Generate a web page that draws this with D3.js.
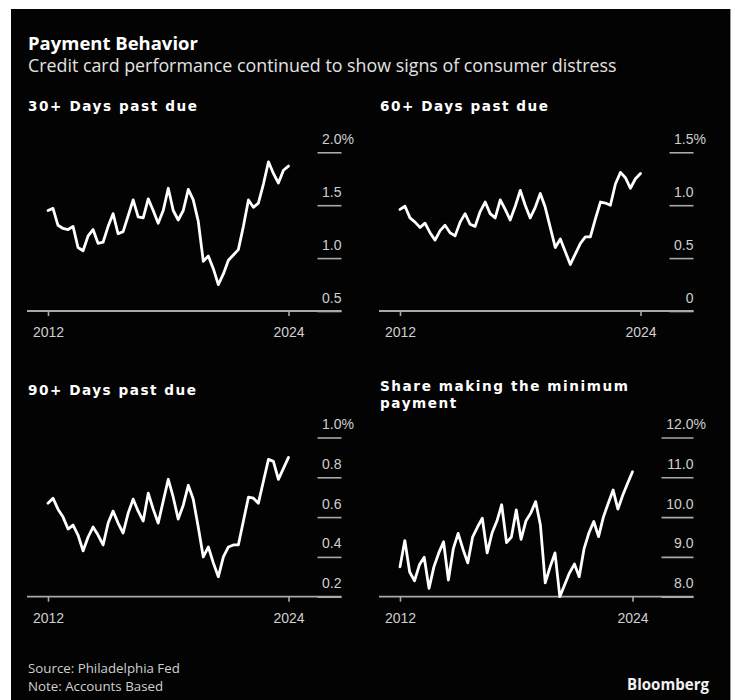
<!DOCTYPE html>
<html>
<head>
<meta charset="utf-8">
<script src="https://cdn.jsdelivr.net/npm/d3@7"></script>
<style>
  body { margin: 0; background: #fff; }
  svg { display: block; font-family: "Open Sans", "Noto Sans", sans-serif; }
</style>
</head>
<body>
<div id="chart"></div>
<script>
// quarterly readings, 2012Q1 .. 2024Q1
var pastDue30 = [1.45, 1.47, 1.31, 1.28, 1.27, 1.30, 1.10, 1.07, 1.21, 1.27, 1.14, 1.15, 1.30, 1.42, 1.23, 1.25,
    1.40, 1.55, 1.39, 1.38, 1.56, 1.45, 1.33, 1.45, 1.66, 1.45, 1.36, 1.45, 1.65, 1.55, 1.35, 0.97,
    1.02, 0.90, 0.75, 0.85, 0.98, 1.03, 1.08, 1.30, 1.55, 1.48, 1.52, 1.70, 1.91, 1.80, 1.71, 1.83, 1.87];
var pastDue60 = [0.96, 0.99, 0.88, 0.84, 0.79, 0.83, 0.74, 0.67, 0.76, 0.81, 0.74, 0.71, 0.84, 0.92, 0.82, 0.80,
    0.94, 1.03, 0.92, 0.88, 1.05, 0.96, 0.86, 0.99, 1.14, 1.00, 0.88, 0.98, 1.11, 0.98, 0.79, 0.60,
    0.68, 0.56, 0.44, 0.54, 0.64, 0.70, 0.70, 0.87, 1.03, 1.02, 1.00, 1.20, 1.31, 1.26, 1.16, 1.25, 1.30];
var pastDue90 = [0.67, 0.695, 0.64, 0.60, 0.54, 0.56, 0.51, 0.43, 0.50, 0.55, 0.51, 0.46, 0.57, 0.63, 0.57, 0.52,
    0.62, 0.69, 0.63, 0.58, 0.72, 0.64, 0.57, 0.68, 0.79, 0.70, 0.59, 0.66, 0.76, 0.69, 0.55, 0.40,
    0.45, 0.37, 0.30, 0.40, 0.45, 0.46, 0.46, 0.58, 0.70, 0.695, 0.67, 0.78, 0.89, 0.88, 0.79, 0.845, 0.90];
var minPayment = [8.75, 9.41, 8.62, 8.40, 8.80, 8.99, 8.21, 8.75, 9.10, 9.38, 8.42, 9.20, 9.59, 9.20, 8.85, 9.50,
    9.75, 9.97, 9.10, 9.60, 9.90, 10.31, 9.36, 9.50, 10.18, 9.44, 9.90, 10.10, 10.39, 9.80, 8.35, 8.75,
    9.10, 8.00, 8.30, 8.60, 8.82, 8.50, 9.20, 9.60, 9.89, 9.51, 10.00, 10.35, 10.68, 10.20, 10.55, 10.85, 11.14];

var ticks30 = [0.5, 1.0, 1.5, 2.0];
var ticks60 = [0, 0.5, 1.0, 1.5];
var ticks90 = [0.2, 0.4, 0.6, 0.8, 1.0];
var ticksMin = [8, 9, 10, 11, 12];
var yearTicks = ["2012", "2024"];

var quarters = d3.range(pastDue30.length).map(function (i) {
    return d3.timeMonth.offset(new Date(2012, 0, 1), 3 * i);
});

var width = 735;
var height = 700;
var axisColor = "#a9a9a9";
var labelColor = "#cfcfcf";

var svg = d3.select("#chart")
    .append("svg")
    .attr("width", width)
    .attr("height", height);

svg.append("rect")
    .attr("x", 11).attr("y", 9)
    .attr("width", 719).attr("height", 691)
    .attr("fill", "#030303");
svg.append("line")
    .attr("x1", 730.5).attr("x2", 730.5)
    .attr("y1", 9).attr("y2", 700)
    .attr("stroke", "#9a9a9a");

function fitSize(sel, target) {
    var w = sel.node().getComputedTextLength();
    var fs = parseFloat(sel.style("font-size"));
    sel.style("font-size", (fs * target / w) + "px");
}
function fitSpacing(sel, target) {
    var w = sel.node().getComputedTextLength();
    var ls = (target - w) / (sel.text().length - 1);
    sel.style("letter-spacing", ls + "px");
    return ls;
}

var title = svg.append("text")
    .attr("x", 28).attr("y", 50)
    .attr("fill", "#fff")
    .style("font-size", "18px")
    .style("font-weight", "bold")
    .text("Payment Behavior");
fitSize(title, 170);

var subtitle = svg.append("text")
    .attr("x", 28).attr("y", 72)
    .attr("fill", "#e2e2e2")
    .style("font-size", "15px")
    .text("Credit card performance continued to show signs of consumer distress");
fitSize(subtitle, 589);

var panels = [
    { title: ["30+ Days past due"], titleW: 169, titleY: 111, values: pastDue30, ticks: ticks30, left: 27, top: 152.3, bottom: 311 },
    { title: ["60+ Days past due"], titleW: 168, titleY: 111, values: pastDue60, ticks: ticks60, left: 379, top: 152.3, bottom: 311 },
    { title: ["90+ Days past due"], titleW: 168, titleY: 395, values: pastDue90, ticks: ticks90, left: 27, top: 437.5, bottom: 596.7 },
    { title: ["Share making the minimum", "payment"], titleW: 248, titleY: 391, values: minPayment, ticks: ticksMin, left: 379, top: 437.5, bottom: 596.7 }
];

var fmt = function (d) {
    return d === 0 ? "0" : d3.format(".1f")(d);
};

panels.forEach(function (p) {
    var g = svg.append("g");
    var right = p.left + 314.5;

    // panel title
    var ls = 0;
    p.title.forEach(function (line, k) {
        var t = g.append("text")
            .attr("x", p.left + 1)
            .attr("y", p.titleY + k * 17)
            .attr("fill", "#fff")
            .style("font-family", "'DejaVu Sans', sans-serif")
            .style("font-size", "13.6px")
            .style("font-weight", "bold")
            .text(line);
        if (k === 0) ls = fitSpacing(t, p.titleW);
        else t.style("letter-spacing", ls + "px");
    });

    // widest y label decides gridline length
    var tmp = g.append("text").style("font-size", "14px");
    var maxW = 0;
    p.ticks.forEach(function (t) {
        tmp.text(fmt(t));
        maxW = Math.max(maxW, tmp.node().getComputedTextLength());
    });
    tmp.remove();
    var gridLen = Math.round(maxW) + 4;

    var xScale = d3.scaleTime()
        .domain([new Date(2012, 0, 1), new Date(2024, 0, 1)])
        .range([p.left + 21, right - gridLen - 29]);
    var yScale = d3.scaleLinear()
        .domain(d3.extent(p.ticks))
        .range([p.bottom, p.top]);

    // y axis: short gridlines on the right with labels above them
    var yAxis = d3.axisLeft(yScale)
        .tickValues(p.ticks)
        .tickSize(gridLen)
        .tickFormat(fmt);
    var ya = g.append("g")
        .attr("transform", "translate(" + right + ",0)")
        .call(yAxis);
    ya.select(".domain").remove();
    ya.selectAll(".tick line")
        .attr("stroke", axisColor)
        .attr("stroke-width", 1.6);
    ya.selectAll(".tick text")
        .attr("x", 0)
        .attr("y", -9)
        .attr("dy", 0)
        .attr("text-anchor", "end")
        .attr("fill", labelColor)
        .style("font-size", "14px")
        .style("font-family", null);
    ya.selectAll(".tick").filter(function (d) { return d === p.ticks[p.ticks.length - 1]; })
        .append("text")
        .attr("x", 0)
        .attr("y", -9)
        .attr("text-anchor", "start")
        .attr("fill", labelColor)
        .style("font-size", "14px")
        .text("%");

    // x axis baseline across the whole panel
    g.append("line")
        .attr("x1", p.left).attr("x2", right)
        .attr("y1", p.bottom).attr("y2", p.bottom)
        .attr("stroke", axisColor)
        .attr("stroke-width", 1.8);

    var xAxis = d3.axisBottom(xScale)
        .tickValues(yearTicks.map(function (y) { return new Date(+y, 0, 1); }))
        .tickFormat(d3.timeFormat("%Y"))
        .tickSize(5);
    var xa = g.append("g")
        .attr("transform", "translate(0," + p.bottom + ")")
        .call(xAxis);
    xa.select(".domain").remove();
    xa.selectAll(".tick line")
        .attr("stroke", axisColor)
        .attr("stroke-width", 1.6);
    xa.selectAll(".tick text")
        .attr("y", 26)
        .attr("dy", 0)
        .attr("fill", labelColor)
        .style("font-size", "14px")
        .style("font-family", null);

    var line = d3.line()
        .x(function (d, i) { return xScale(quarters[i]); })
        .y(function (d) { return yScale(d); });

    g.append("path")
        .datum(p.values)
        .attr("d", line)
        .attr("fill", "none")
        .attr("stroke", "#fff")
        .attr("stroke-width", 2.8)
        .attr("stroke-linejoin", "round")
        .attr("stroke-linecap", "round");
});

var source = svg.append("text")
    .attr("x", 28).attr("y", 673)
    .attr("fill", "#cfcfcf")
    .style("font-size", "13px")
    .text("Source: Philadelphia Fed");
fitSize(source, 152);
svg.append("text")
    .attr("x", 28).attr("y", 691)
    .attr("fill", "#cfcfcf")
    .style("font-size", source.style("font-size"))
    .text("Note: Accounts Based");

var brand = svg.append("text")
    .attr("x", 709).attr("y", 690)
    .attr("text-anchor", "end")
    .attr("fill", "#f0f0f0")
    .style("font-size", "14px")
    .style("font-weight", "bold")
    .text("Bloomberg");
fitSize(brand, 82);
</script>
</body>
</html>
